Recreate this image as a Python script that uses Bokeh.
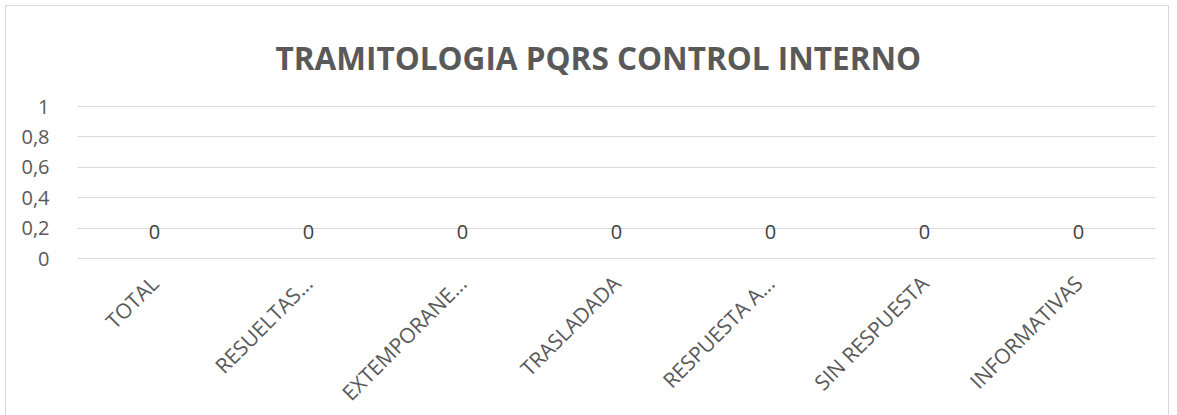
import math
from bokeh.plotting import figure
from bokeh.models import Range1d, FactorRange, ColumnDataSource, FixedTicker, CustomJSTickFormatter
from bokeh.core.properties import value
from bokeh.embed import file_html
from bokeh.resources import INLINE

title_text = "TRAMITOLOGIA PQRS CONTROL INTERNO"
categories = ["TOTAL", "RESUELTAS...", "EXTEMPORANE...", "TRASLADADA",
              "RESPUESTA A...", "SIN RESPUESTA", "INFORMATIVAS"]
values = [0, 0, 0, 0, 0, 0, 0]
y_ticks = [0, 0.2, 0.4, 0.6, 0.8, 1]

FONT = "Open Sans"
src = ColumnDataSource(dict(cat=categories, val=values, lbl=[str(v) for v in values]))

pad = 1.0 / 152  # one pixel of padding so the 0 and 1 gridlines are not clipped
p = figure(frame_width=1078, frame_height=154, output_backend="svg", toolbar_location=None,
           x_range=FactorRange(*categories, range_padding=0),
           y_range=Range1d(-pad, 1 + pad),
           min_border_left=71, min_border_right=13, min_border_top=99, min_border_bottom=152)

p.title.text = title_text
p.title.align = "left"
p.title.offset = 198
p.title.text_font = FONT
p.title.text_font_style = "bold"
p.title.text_font_size = "31.5px"
p.title.text_line_height = 1.0
p.title.text_color = "#595959"
p.title.standoff = 54

p.vbar(x="cat", top="val", width=0.6, source=src, fill_color="#4472C4", line_color=None)
p.text(x="cat", y="val", text="lbl", source=src, text_align="center",
       text_baseline="bottom", y_offset=-20, text_font=value(FONT),
       text_font_size="20px", text_color="#404040")

p.yaxis.ticker = FixedTicker(ticks=y_ticks)
p.yaxis.formatter = CustomJSTickFormatter(code="return String(Math.round(tick*10)/10).replace('.', ',');")
p.yaxis.axis_line_color = None
p.yaxis.major_tick_line_color = None
p.yaxis.minor_tick_line_color = None
p.yaxis.major_label_text_font = FONT
p.yaxis.major_label_text_font_size = "20px"
p.yaxis.major_label_text_color = "#595959"
p.yaxis.major_label_standoff = 22

p.xaxis.axis_line_color = None
p.xaxis.major_tick_line_color = None
p.xaxis.minor_tick_line_color = None
p.xaxis.major_label_orientation = math.pi / 4
p.xaxis.major_label_text_font = FONT
p.xaxis.major_label_text_font_size = "21px"
p.xaxis.major_label_text_color = "#595959"
p.xaxis.major_label_standoff = 14

p.xgrid.grid_line_color = None
p.ygrid.grid_line_color = "#d9d9d9"
p.ygrid.grid_line_width = 1
p.outline_line_color = None
p.styles = {"border": "1px solid #d9d9d9", "margin": "5px"}

open("out.html", "w").write(file_html(p, INLINE))
